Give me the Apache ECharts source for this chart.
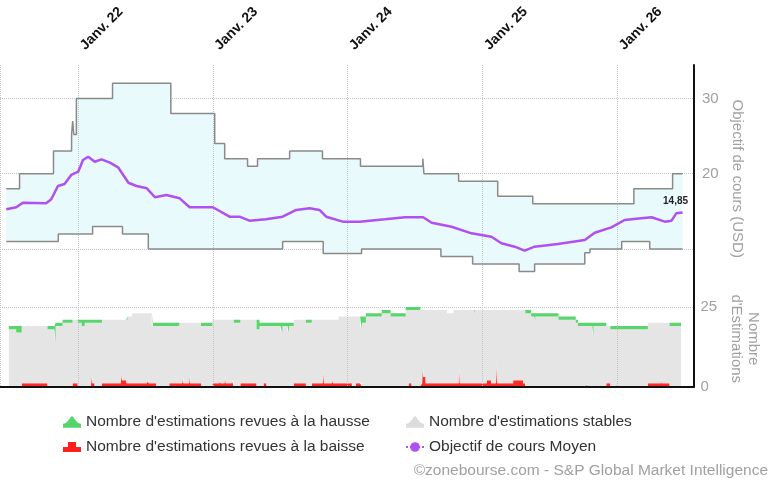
<!DOCTYPE html>
<html><head><meta charset="utf-8">
<script src="https://cdn.jsdelivr.net/npm/echarts@6/dist/echarts.min.js"></script>
<style>html,body{margin:0;padding:0;background:#fff}#c{width:770px;height:487px}</style>
</head><body><div id="c"></div>
<script>
// ---------- DATA ----------
const xTickLabels = {2022: 'Janv. 22', 2023: 'Janv. 23', 2024: 'Janv. 24', 2025: 'Janv. 25', 2026: 'Janv. 26'};
const xRange = ['2021-06-03', '2026-07-28'];

// highest analyst target (step changes)
const targetHigh = [
  ['2021-06-20', 18], ['2021-07-26', 20], ['2021-10-26', 23], ['2021-12-14', 25.2], ['2021-12-17', 27],
  ['2021-12-20', 25.2], ['2021-12-27', 30], ['2022-04-04', 32], ['2022-09-09', 28], ['2023-01-06', 24],
  ['2023-02-02', 22], ['2023-04-05', 21], ['2023-05-02', 22], ['2023-07-28', 23], ['2023-10-25', 22],
  ['2024-02-05', 21], ['2024-07-23', 22], ['2024-07-26', 20], ['2024-10-28', 19], ['2025-02-11', 17],
  ['2025-05-17', 16], ['2026-02-15', 18], ['2026-05-31', 20], ['2026-06-27', 20]
];
// lowest analyst target (step changes)
const targetLow = [
  ['2021-06-20', 11], ['2021-11-08', 12], ['2022-02-09', 13], ['2022-05-01', 12], ['2022-07-10', 10],
  ['2023-07-09', 11], ['2023-10-27', 9.4], ['2024-02-08', 10], ['2024-09-10', 9], ['2024-12-05', 8],
  ['2025-04-10', 7], ['2025-05-22', 8], ['2025-10-05', 9.5], ['2025-10-19', 10], ['2026-01-13', 11],
  ['2026-03-30', 10], ['2026-06-27', 10]
];
// mean target price
const targetMean = [
  ['2021-06-20', 15.27], ['2021-07-17', 15.54], ['2021-08-04', 16.15], ['2021-10-06', 16.07], ['2021-10-20', 16.6],
  ['2021-11-07', 18.37], ['2021-11-25', 18.63], ['2021-12-13', 19.83], ['2022-01-01', 20.27], ['2022-01-14', 21.82],
  ['2022-01-28', 22.26], ['2022-02-15', 21.59], ['2022-03-05', 21.91], ['2022-03-28', 21.46], ['2022-04-19', 20.85],
  ['2022-05-17', 18.8], ['2022-06-08', 18.37], ['2022-07-06', 18.06], ['2022-07-28', 16.87], ['2022-08-28', 17.17],
  ['2022-10-03', 16.73], ['2022-10-30', 15.54], ['2023-01-01', 15.54], ['2023-02-15', 14.29], ['2023-03-14', 14.29],
  ['2023-04-10', 13.76], ['2023-05-25', 13.94], ['2023-07-09', 14.29], ['2023-08-15', 15.18], ['2023-09-20', 15.4],
  ['2023-10-17', 15.18], ['2023-11-04', 14.29], ['2023-12-19', 13.63], ['2024-02-03', 13.63], ['2024-04-11', 13.94],
  ['2024-06-05', 14.21], ['2024-07-24', 14.21], ['2024-08-16', 13.49], ['2024-10-09', 12.96], ['2024-12-02', 12.08],
  ['2025-01-25', 11.63], ['2025-02-21', 10.76], ['2025-03-29', 10.31], ['2025-04-25', 9.78], ['2025-05-22', 10.31],
  ['2025-07-24', 10.66], ['2025-10-05', 11.2], ['2025-11-01', 12.16], ['2025-12-16', 12.88], ['2026-01-21', 13.85],
  ['2026-03-07', 14.08], ['2026-04-04', 14.21], ['2026-05-10', 13.63], ['2026-05-28', 13.76], ['2026-06-10', 14.74],
  ['2026-06-27', 14.85]
];

// number of estimates (step changes) : dates, revised down, stable, revised up
const estDates = [
  '2021-06-27','2021-07-17','2021-08-01','2021-10-10','2021-10-29','2021-11-01','2021-11-20','2021-12-17','2021-12-31','2022-01-11',
  '2022-01-19','2022-02-05','2022-02-09','2022-02-15','2022-03-07','2022-04-27','2022-05-01','2022-05-12','2022-05-15','2022-05-28',
  '2022-07-07','2022-07-12','2022-07-20','2022-07-24','2022-08-01','2022-09-06','2022-10-03','2022-10-11','2022-10-14','2022-10-30',
  '2022-11-02','2022-12-01','2023-01-01','2023-01-20','2023-01-23','2023-02-03','2023-02-06','2023-02-22','2023-02-25','2023-02-28',
  '2023-03-18','2023-05-01','2023-05-09','2023-05-20','2023-05-28','2023-07-05','2023-07-10','2023-07-24','2023-07-28','2023-08-10',
  '2023-09-12','2023-09-28','2023-10-28','2023-10-31','2023-11-22','2023-11-25','2023-12-10','2024-01-15','2024-01-26','2024-02-06',
  '2024-02-11','2024-02-22','2024-04-05','2024-04-29','2024-06-09','2024-06-17','2024-06-25','2024-07-19','2024-07-24','2024-07-27',
  '2024-08-02','2024-09-29','2024-10-17','2024-10-31','2024-11-03','2024-12-10','2024-12-13','2025-01-16','2025-01-27','2025-02-09',
  '2025-02-12','2025-03-28','2025-04-24','2025-04-30','2025-05-16','2025-05-24','2025-05-27','2025-07-29','2025-09-14','2025-09-20',
  '2025-10-12','2025-10-17','2025-10-29','2025-11-01','2025-12-06','2025-12-17','2026-03-29','2026-05-03','2026-05-05','2026-05-27',
  '2026-06-27'
];
const estDown = [
  0,0,1,0,0,0,0,1,0,0,
  0,4,1,0,1,4,2,1,1,1,
  2,1,1,1,0,1,1,3,1,4,
  1,0,1,2,1,3.5,1,2,1,0,
  1,0,0,1,0,0,0,0,0,1,
  0,1,5,1,2,1,1,0,1,1,
  0,0,0,0,0,1,0,1,7,3,
  1,1,1,7,1,1,1,2,1,8,
  1,2,1,0,0,0,0,0,0,0,
  1,0,0,0,1,0,1,3,1,0,
  0
];
const estStable = [
  18,17,18,18,14,19,20,20,20,19,
  20,16,19,20,20,17,19,20,21,22,
  21,22,18,18,19,18,19,17,19,16,
  19,19,20,19,20,17.5,20,19,20,20,
  20,18,19,18,19,17,19,17,19,20,
  20,20,16,20,19,20,21,22,21,17,
  20,22,23,22,24,23,24,23,17,21,
  23,22,23,17,23,22,23,22,23,16,
  23,22,23,23,22,21,22,21,20,19,
  18,19,16,19,18,18,19,17,19,19,
  19
];
const estUp = [
  1,2,0,1,5,1,1,0,1,2,
  1,1,1,1,0,0,0,0,0,0,
  0,0,4,1,1,1,0,0,0,0,
  0,1,0,0,0,0,0,0,0,1,
  0,3,1,1,1,3,1,3,1,0,
  1,0,0,0,0,0,0,0,0,4,
  2,1,1,1,1,1,1,0,0,0,
  0,0,0,0,0,1,0,0,0,0,
  0,0,0,1,1,2,1,1,1,1,
  1,1,4,1,0,1,0,0,0,1,
  1
];

const NAME_UP = "Nombre d'estimations revues à la hausse";
const NAME_DOWN = "Nombre d'estimations revues à la baisse";
const NAME_STABLE = "Nombre d'estimations stables";
const NAME_MEAN = 'Objectif de cours Moyen';

// ---------- helpers ----------
function stepAt(pairs, d) {
  let v = pairs[0][1];
  for (const p of pairs) { if (p[0] <= d) v = p[1]; }
  return v;
}
const bandDates = Array.from(new Set(targetHigh.map(p => p[0]).concat(targetLow.map(p => p[0])))).sort();
const bandBase = bandDates.map(d => [d, stepAt(targetLow, d)]);
const bandWidth = bandDates.map(d => [d, +(stepAt(targetHigh, d) - stepAt(targetLow, d)).toFixed(3)]);
const lastMean = targetMean[targetMean.length - 1];

const FONT = 'Liberation Sans, Arial, Helvetica, sans-serif';
const GRID_LINE = { type: 'dotted', color: '#c4c4c4', width: 1 };
const mountain = 'path://M0,12 L0,8 C3,8 4,6 6,4 L7.5,1.5 C8.5,0 9.5,0 10.5,1.5 L12,4 C14,6 15,8 18,8 L18,12 Z';
const block = 'path://M0,12 L0,7 L5,7 L5,2 L13,2 L13,7 L18,7 L18,12 Z';

function yearFmt(val) {
  const d = new Date(val);
  return (d.getMonth() === 0 && d.getDate() === 1) ? (xTickLabels[d.getFullYear()] || '') : '';
}

const chart = echarts.init(document.getElementById('c'), null, { renderer: 'canvas' });
chart.setOption({
  animation: false,
  textStyle: { fontFamily: FONT },
  title: {
    text: '©zonebourse.com - S&P Global Market Intelligence', right: 2, top: 463, padding: 0,
    textStyle: { fontSize: 15.5, color: '#a0a0a0', fontWeight: 'normal', fontFamily: FONT }
  },
  legend: [
    { orient: 'vertical', left: 58, top: 409, itemGap: 9, itemWidth: 18, itemHeight: 12, selectedMode: false,
      textStyle: { fontSize: 15.5, color: '#333', fontFamily: FONT, lineHeight: 16 },
      data: [{ name: NAME_UP, icon: mountain }, { name: NAME_DOWN, icon: block }] },
    { orient: 'vertical', left: 400, top: 409, itemGap: 9, itemWidth: 18, itemHeight: 12, selectedMode: false,
      textStyle: { fontSize: 15.5, color: '#333', fontFamily: FONT, lineHeight: 16 },
      data: [{ name: NAME_STABLE, icon: mountain }, { name: NAME_MEAN, lineStyle: { type: 'dotted', width: 2 } }] }
  ],
  grid: [
    { left: 0, right: 76, top: 23.1, height: 301.2 },
    { left: 0, right: 76, top: 291, height: 95.5 },
    { left: 0, right: 76, top: 65, height: 321.5 }
  ],
  xAxis: [
    { gridIndex: 0, type: 'time', min: xRange[0], max: xRange[1], show: false },
    { gridIndex: 1, type: 'time', min: xRange[0], max: xRange[1], position: 'top',
      axisLine: { show: true, lineStyle: { type: [6, 4], color: '#444', width: 1 } },
      axisTick: { show: false }, axisLabel: { show: false }, splitLine: { show: false } },
    { gridIndex: 2, type: 'time', min: xRange[0], max: xRange[1], position: 'bottom', z: 5,
      axisLine: { show: true, lineStyle: { color: '#111', width: 2 } },
      axisTick: { show: false }, axisLabel: { show: false },
      splitLine: { show: true, lineStyle: GRID_LINE } },
    { gridIndex: 2, type: 'time', min: xRange[0], max: xRange[1], position: 'top',
      axisLine: { show: false }, axisTick: { show: false }, splitLine: { show: false },
      axisLabel: { rotate: -45, margin: 13, fontSize: 14, fontWeight: 'bold', color: '#111', fontFamily: FONT,
        padding: [0, 0, 0, 6], formatter: yearFmt } }
  ],
  yAxis: [
    { gridIndex: 0, type: 'value', position: 'right', min: 0, max: 40, interval: 10,
      axisLine: { show: false }, axisTick: { show: false },
      axisLabel: { margin: 8, fontSize: 15, color: '#a0a0a0', formatter: v => (v === 20 || v === 30) ? String(v) : '' },
      splitLine: { show: true, showMinLine: false, showMaxLine: false, lineStyle: GRID_LINE },
      name: 'Objectif de cours (USD)', nameLocation: 'middle', nameRotate: -90, nameGap: 35,
      nameTextStyle: { fontSize: 15, color: '#a0a0a0', padding: [0, 0, 0, 10] } },
    { gridIndex: 1, type: 'value', position: 'right', min: 0, max: 30, interval: 25,
      axisLine: { show: false }, axisTick: { show: false },
      axisLabel: { margin: 8, fontSize: 15, color: '#a0a0a0', formatter: v => (v === 0 || v === 25) ? String(v) : '' },
      splitLine: { show: true, showMinLine: false, showMaxLine: false, lineStyle: GRID_LINE },
      name: "Nombre\nd'Estimations", nameLocation: 'middle', nameRotate: -90, nameGap: 35,
      nameTextStyle: { fontSize: 15, color: '#a0a0a0', lineHeight: 17, align: 'center' } },
    { gridIndex: 2, type: 'value', position: 'right', min: 0, max: 1, z: 5,
      axisLine: { show: true, lineStyle: { color: '#111', width: 2 } },
      axisTick: { show: false }, axisLabel: { show: false }, splitLine: { show: false } }
  ],
  series: [
    { type: 'line', xAxisIndex: 0, yAxisIndex: 0, stack: 'band', step: 'end', symbol: 'none', silent: true,
      lineStyle: { width: 0, opacity: 0 }, data: bandBase, z: 1 },
    { type: 'line', xAxisIndex: 0, yAxisIndex: 0, stack: 'band', step: 'end', symbol: 'none', silent: true,
      lineStyle: { width: 0, opacity: 0 }, areaStyle: { color: '#e8fafc', opacity: 1 }, data: bandWidth, z: 1 },
    { type: 'line', xAxisIndex: 0, yAxisIndex: 0, step: 'end', symbol: 'none', silent: true,
      lineStyle: { color: '#8a8a8a', width: 1.5 }, data: targetHigh, z: 6 },
    { type: 'line', xAxisIndex: 0, yAxisIndex: 0, step: 'end', symbol: 'none', silent: true,
      lineStyle: { color: '#8a8a8a', width: 1.5 }, data: targetLow, z: 6 },
    { type: 'line', name: NAME_MEAN, xAxisIndex: 0, yAxisIndex: 0, symbol: 'circle', symbolSize: 7, showSymbol: false,
      color: '#b050f0', lineStyle: { color: '#b050f0', width: 2.5 }, data: targetMean, z: 7,
      markPoint: {
        symbol: 'circle', symbolSize: 1, itemStyle: { color: 'rgba(0,0,0,0)' }, silent: true,
        data: [{ coord: lastMean, value: lastMean[1] }],
        label: { show: true, position: 'top', distance: 6, offset: [-7, 0], fontSize: 10, fontWeight: 'bold', color: '#222',
          formatter: p => String(p.value).replace('.', ',') }
      } },
    { type: 'line', name: NAME_DOWN, xAxisIndex: 1, yAxisIndex: 1, stack: 'est', step: 'end', symbol: 'none',
      color: '#ff1f1f', lineStyle: { width: 0 }, areaStyle: { color: '#ff2a2a', opacity: 1 },
      data: estDates.map((d, i) => [d, estDown[i]]), z: 2 },
    { type: 'line', name: NAME_STABLE, xAxisIndex: 1, yAxisIndex: 1, stack: 'est', step: 'end', symbol: 'none',
      color: '#dcdcdc', lineStyle: { width: 0 }, areaStyle: { color: '#e5e5e5', opacity: 1 },
      data: estDates.map((d, i) => [d, estStable[i]]), z: 2 },
    { type: 'line', name: NAME_UP, xAxisIndex: 1, yAxisIndex: 1, stack: 'est', step: 'end', symbol: 'none',
      color: '#55d46a', lineStyle: { width: 0 }, areaStyle: { color: '#5ad56e', opacity: 1 },
      data: estDates.map((d, i) => [d, estUp[i]]), z: 2 }
  ]
});
</script></body></html>
